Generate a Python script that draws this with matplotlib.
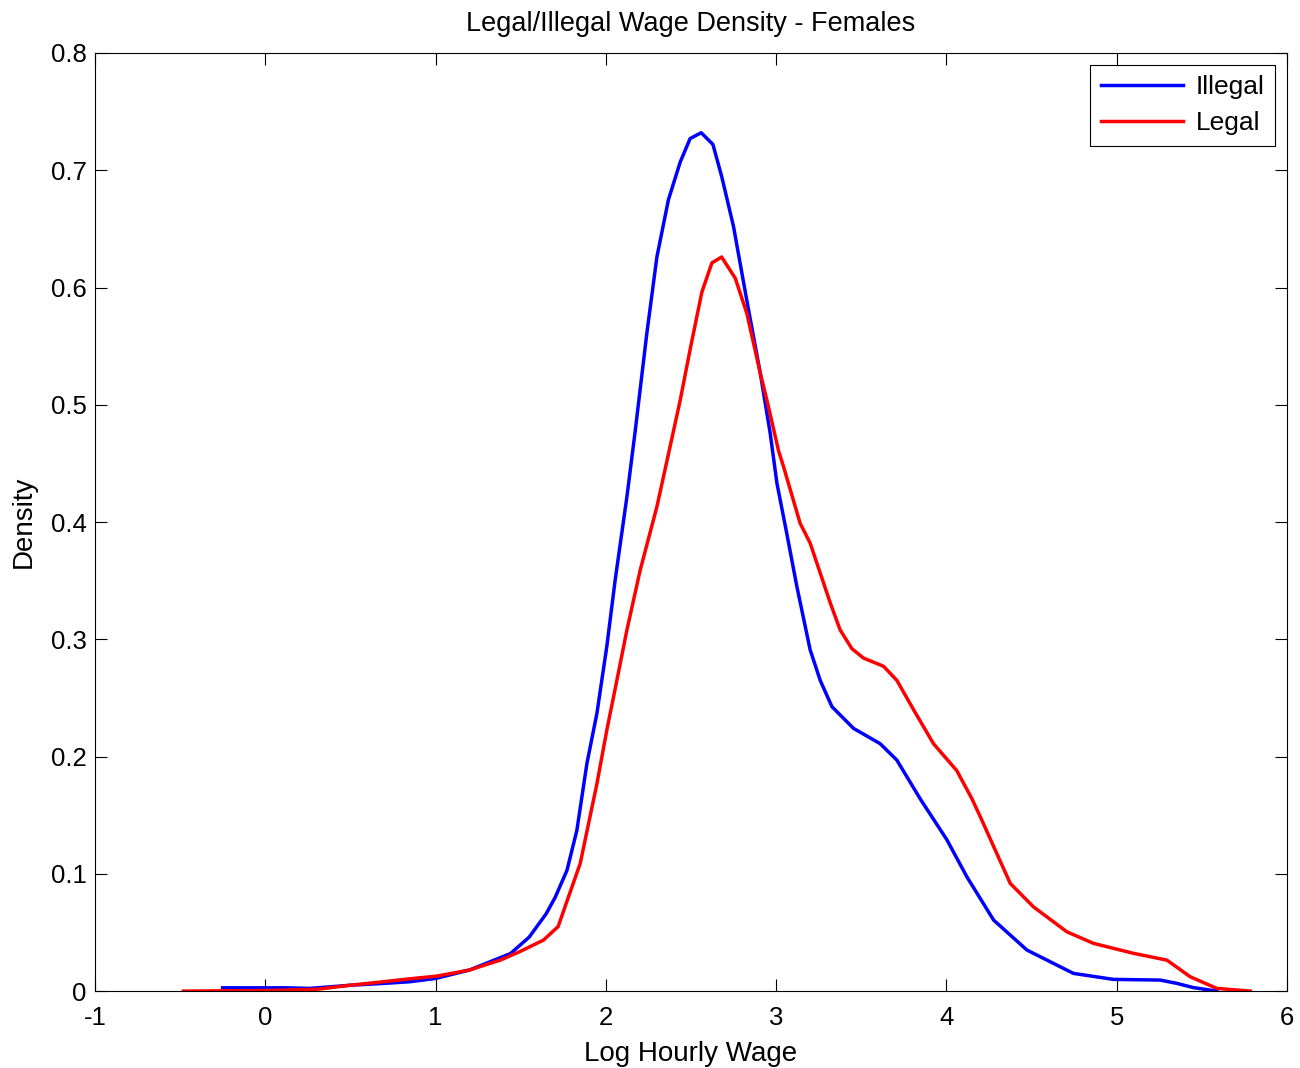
import matplotlib.pyplot as plt

# Kernel density estimates
illegal_x = [-0.25, 0.0, 0.13, 0.26, 0.5, 0.7, 0.85, 1.0, 1.2, 1.44, 1.55, 1.65, 1.703,
             1.772, 1.83, 1.889, 1.948, 2.006, 2.055, 2.124, 2.173, 2.241, 2.30, 2.368,
             2.437, 2.495, 2.56, 2.629, 2.68, 2.75, 2.828, 2.907, 2.965, 3.005, 3.063,
             3.122, 3.20, 3.259, 3.328, 3.455, 3.611, 3.709, 3.846, 4.003, 4.12, 4.277,
             4.473, 4.746, 4.98, 5.256, 5.353, 5.45, 5.588]
illegal_y = [0.0028, 0.0028, 0.0028, 0.0023, 0.005, 0.0066, 0.008, 0.0108, 0.018, 0.032,
             0.046, 0.066, 0.080, 0.103, 0.137, 0.194, 0.237, 0.294, 0.3505, 0.4216,
             0.478, 0.561, 0.626, 0.675, 0.707, 0.727, 0.732, 0.722, 0.695, 0.652, 0.589,
             0.527, 0.476, 0.433, 0.390, 0.345, 0.291, 0.265, 0.2425, 0.224, 0.211, 0.197,
             0.164, 0.129, 0.0975, 0.0606, 0.035, 0.0151, 0.010, 0.0094, 0.0066, 0.003, 0.0]

legal_x = [-0.48, 0.0, 0.3, 0.5, 0.695, 0.85, 1.008, 1.2, 1.38, 1.5, 1.634, 1.72, 1.78,
           1.85, 1.899, 1.948, 2.006, 2.065, 2.124, 2.202, 2.30, 2.398, 2.437, 2.495,
           2.564, 2.623, 2.68, 2.76, 2.828, 2.907, 2.946, 3.014, 3.044, 3.141, 3.20,
           3.318, 3.376, 3.445, 3.513, 3.631, 3.709, 3.807, 3.924, 4.061, 4.15, 4.198,
           4.375, 4.511, 4.707, 4.864, 5.099, 5.295, 5.432, 5.588, 5.784]
legal_y = [0.0, 0.0005, 0.0015, 0.005, 0.008, 0.0105, 0.0128, 0.018, 0.0264, 0.034,
           0.0435, 0.055, 0.080, 0.109, 0.143, 0.177, 0.2226, 0.265, 0.308, 0.359, 0.413,
           0.478, 0.504, 0.547, 0.596, 0.621, 0.626, 0.608, 0.578, 0.527, 0.504, 0.461,
           0.447, 0.399, 0.382, 0.331, 0.308, 0.292, 0.284, 0.277, 0.265, 0.240, 0.211,
           0.188, 0.164, 0.149, 0.0918, 0.0719, 0.0506, 0.0407, 0.0322, 0.0264, 0.0122,
           0.0023, 0.0]

x_ticks = [-1, 0, 1, 2, 3, 4, 5, 6]
y_ticks = [0, 0.1, 0.2, 0.3, 0.4, 0.5, 0.6, 0.7, 0.8]

plt.rcParams['font.family'] = ['Liberation Sans', 'DejaVu Sans']

fig = plt.figure(figsize=(13, 10.68), dpi=100)
ax = fig.add_axes([0.073, 0.072, 0.917, 0.8784])

ax.plot(illegal_x, illegal_y, color='#0000ff', lw=2.5, label='Illegal')
ax.plot(legal_x, legal_y, color='#ff0000', lw=2.5, label='Legal')

ax.set_xlim(-1, 6)
ax.set_ylim(0, 0.8)
ax.set_xticks(x_ticks)
ax.set_xticklabels([str(t) for t in x_ticks])
ax.set_yticks(y_ticks)
ax.set_yticklabels(['0'] + [f'{t:.1f}' for t in y_ticks[1:]])
ax.tick_params(direction='in', length=8.5, width=0.8, labelsize=18.5,
               top=True, right=True)
ax.tick_params(axis='x', pad=11)
ax.tick_params(axis='y', pad=6)
for sp in ax.spines.values():
    sp.set_linewidth(0.8)

ax.set_xlabel('Log Hourly Wage', fontsize=20, labelpad=8)
ax.set_ylabel('Density', fontsize=20, labelpad=10)
ax.set_title('Legal/Illegal Wage Density - Females', fontsize=19.5, pad=16)

leg = ax.legend(loc='upper right', fontsize=19, fancybox=False, framealpha=1,
                edgecolor='black', handlelength=3.1, borderaxespad=0.45,
                handletextpad=0.5, borderpad=0.4, labelspacing=0.45)
leg.get_frame().set_linewidth(0.8)

fig.savefig('out.png', dpi=100)
